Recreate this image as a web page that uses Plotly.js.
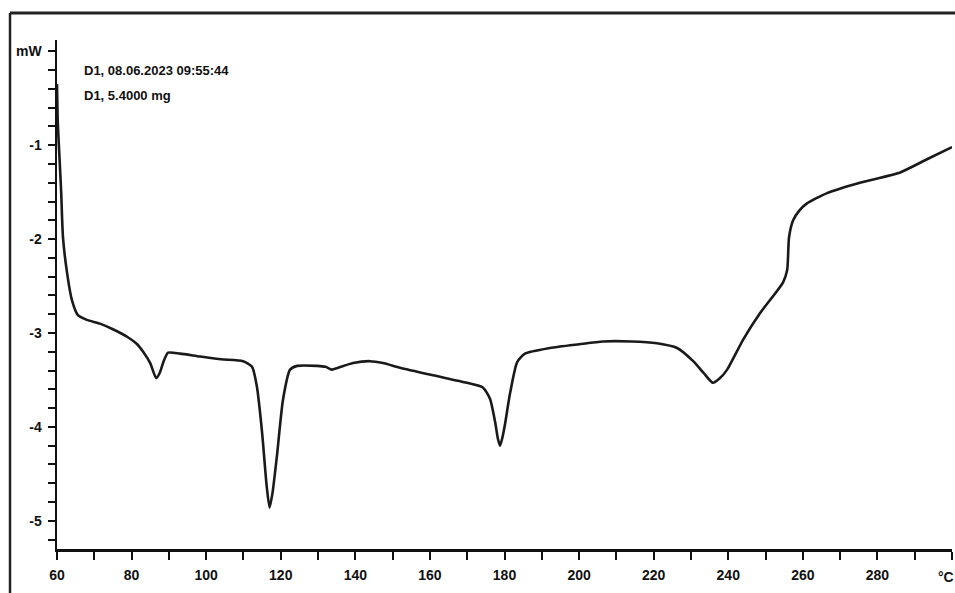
<!DOCTYPE html>
<html>
<head>
<meta charset="utf-8">
<script src="https://cdn.plot.ly/plotly-3.0.1.min.js"></script>
<style>
html,body{margin:0;padding:0;background:#fff;}
#chart{width:955px;height:593px;}
</style>
</head>
<body>
<div id="chart"></div>
<script>
// Temperature (°C)
const temperature = [60, 60.2, 60.5, 61.1, 61.6, 62.7, 64, 65.6, 68, 71.5, 75, 78.8, 81.5, 83.1, 85, 86.6, 87.6, 88.6, 89.8, 93, 98.3, 104, 109.9, 112.3, 113.6, 115, 116.2, 117, 117.8, 119, 120.6, 122.5, 124.4, 129.7, 132, 133.7, 135.4, 139.4, 143.9, 147.4, 152, 160.8, 169.9, 174.2, 176.1, 177.5, 178.2, 178.8, 179.4, 180.1, 181.5, 183.4, 185.5, 192.2, 200, 206.4, 214, 220.9, 226.3, 230.6, 233.5, 235.9, 237.8, 239.7, 244, 248.5, 254.7, 255.8, 256.3, 257.4, 259, 261.1, 266.5, 275.3, 286.1, 293.3, 300];
// Heat flow (mW)
const heatFlow = [-0.35, -0.75, -1.0, -1.48, -1.98, -2.36, -2.65, -2.81, -2.86, -2.9, -2.96, -3.04, -3.12, -3.2, -3.32, -3.48, -3.42, -3.3, -3.21, -3.22, -3.25, -3.28, -3.3, -3.36, -3.57, -4.06, -4.62, -4.86, -4.7, -4.3, -3.71, -3.39, -3.35, -3.35, -3.36, -3.39, -3.37, -3.32, -3.30, -3.32, -3.37, -3.45, -3.53, -3.58, -3.7, -3.95, -4.12, -4.2, -4.12, -3.98, -3.64, -3.31, -3.22, -3.16, -3.12, -3.09, -3.09, -3.11, -3.16, -3.3, -3.43, -3.53, -3.48, -3.39, -3.07, -2.79, -2.46, -2.33, -1.98, -1.80, -1.70, -1.62, -1.51, -1.40, -1.29, -1.15, -1.02];

const xTickVals = [60, 80, 100, 120, 140, 160, 180, 200, 220, 240, 260, 280, 300];
const xTickText = ['60', '80', '100', '120', '140', '160', '180', '200', '220', '240', '260', '280', ''];
const xUnit = '°C';
const yTickVals = [0, -1, -2, -3, -4, -5];
const yTickText = ['mW', '-1', '-2', '-3', '-4', '-5'];
const infoLines = ['D1, 08.06.2023 09:55:44', 'D1, 5.4000 mg'];

const font = 'Liberation Sans, Arial, sans-serif';

const trace = {
  x: temperature,
  y: heatFlow,
  type: 'scatter',
  mode: 'lines',
  line: {color: '#1a1a1a', width: 2.6, shape: 'spline', smoothing: 0.6},
  hoverinfo: 'x+y'
};

const annotations = infoLines.map((t, i) => ({
  text: t, xref: 'paper', yref: 'paper',
  x: 0.028, y: 0.94 - i * 0.05, xanchor: 'left', yanchor: 'middle',
  showarrow: false, font: {family: font, size: 13, color: '#111', weight: 'bold'}
}));
annotations.push({
  text: xUnit, xref: 'paper', yref: 'paper',
  x: 0.9935, y: -0.055, xanchor: 'center', yanchor: 'middle',
  showarrow: false, font: {family: font, size: 14, color: '#111', weight: 'bold'}
});

const layout = {
  width: 955, height: 593,
  margin: {l: 57, r: 3, t: 40, b: 44},
  paper_bgcolor: '#fff', plot_bgcolor: '#fff',
  showlegend: false,
  font: {family: font, color: '#111', size: 14},
  xaxis: {
    range: [60, 300],
    tickmode: 'array', tickvals: xTickVals, ticktext: xTickText,
    ticks: 'outside', ticklen: 8, tickwidth: 2, tickcolor: '#111',
    minor: {dtick: 10, tick0: 60, ticks: 'outside', ticklen: 8, tickwidth: 2, tickcolor: '#111'},
    showline: true, linecolor: '#111', linewidth: 2.5,
    showgrid: false, zeroline: false,
    ticklabelstandoff: 4,
    tickfont: {family: font, size: 14, color: '#111', weight: 'bold'}
  },
  yaxis: {
    range: [-5.3, 0.12],
    tickmode: 'array', tickvals: yTickVals, ticktext: yTickText,
    ticks: 'outside', ticklen: 7, tickwidth: 2, tickcolor: '#111',
    minor: {dtick: 0.2, tick0: 0, ticks: 'outside', ticklen: 7, tickwidth: 2, tickcolor: '#111'},
    showline: true, linecolor: '#111', linewidth: 2.5,
    showgrid: false, zeroline: false,
    ticklabelstandoff: 3,
    tickfont: {family: font, size: 14, color: '#111', weight: 'bold'}
  },
  annotations: annotations,
  shapes: [
    {type: 'line', xref: 'paper', yref: 'paper', x0: -0.0525, x1: 1.01, y0: 1.053, y1: 1.053, line: {color: '#222', width: 3}},
    {type: 'line', xref: 'paper', yref: 'paper', x0: -0.0525, x1: -0.0525, y0: 1.053, y1: -0.09, line: {color: '#222', width: 2.5}}
  ]
};

Plotly.newPlot('chart', [trace], layout, {displayModeBar: false, staticPlot: true});
</script>
</body>
</html>
